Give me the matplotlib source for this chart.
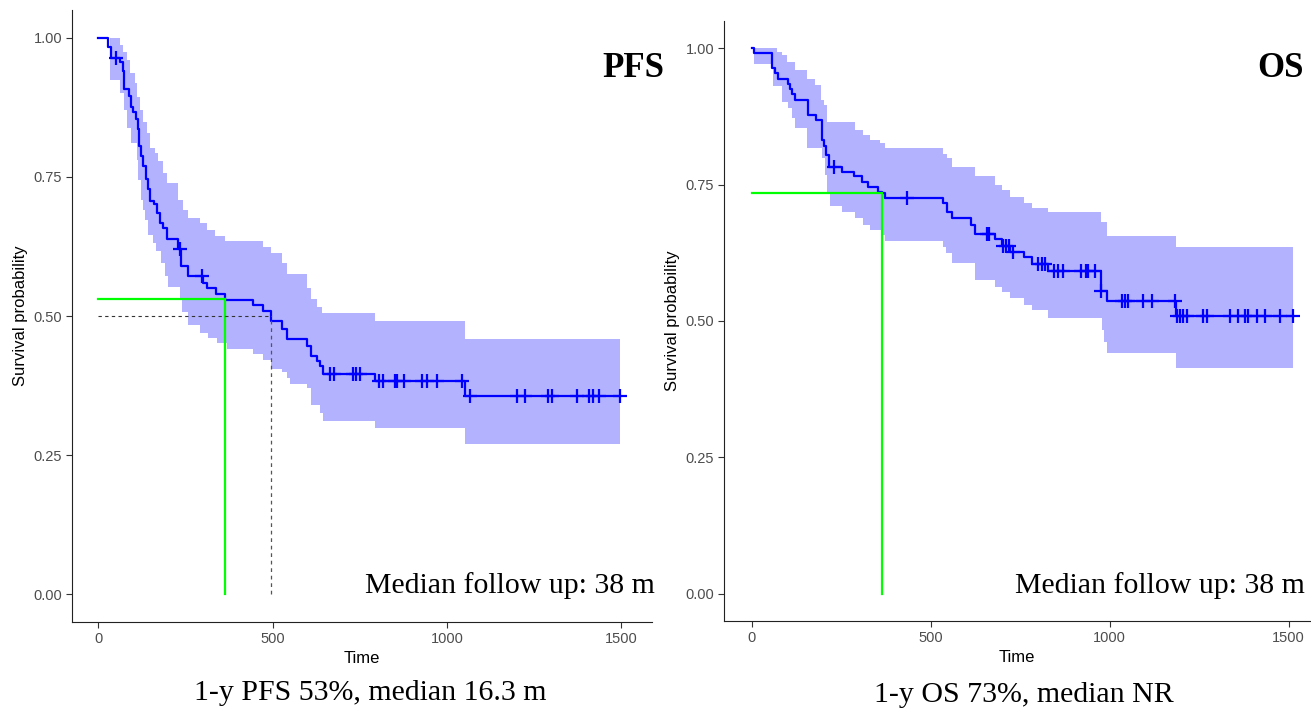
import numpy as np
import matplotlib
matplotlib.use('Agg')
from matplotlib import pyplot as plt

# PFS Kaplan-Meier steps (days, survival)
pfs_time = [0, 27, 36, 63, 70, 75, 87, 95, 101, 108, 114, 118, 123, 130, 138, 144, 149, 159, 170, 178,
            187, 197, 230, 238, 257, 302, 312, 337, 364, 445, 472, 495, 527, 541, 600, 611, 627, 637, 645, 794, 1052]
pfs_surv = [1.0, 0.983, 0.963, 0.957, 0.941, 0.908, 0.896, 0.875, 0.866, 0.854, 0.836, 0.806, 0.788, 0.770, 0.746, 0.728, 0.707, 0.701, 0.686, 0.668,
            0.659, 0.638, 0.620, 0.590, 0.571, 0.560, 0.551, 0.539, 0.528, 0.519, 0.509, 0.491, 0.477, 0.459, 0.446, 0.428, 0.419, 0.410, 0.396, 0.383, 0.357]
pfs_end = 1497
pfs_censor = [52, 235, 297, 665, 675, 732, 740, 751, 804, 818, 852, 856, 876, 928, 942, 971, 1043, 1065,
              1200, 1224, 1291, 1301, 1373, 1406, 1420, 1435, 1497]
pfs_up_t = [0, 62, 72, 82, 91, 105, 110, 120, 129, 139, 148, 163, 172, 187, 196, 230, 244, 258, 292, 311,
            335, 364, 472, 495, 527, 541, 600, 611, 627, 641, 794, 1052]
pfs_up = [1.0, 0.987, 0.975, 0.960, 0.936, 0.918, 0.894, 0.871, 0.849, 0.829, 0.802, 0.793, 0.778, 0.757, 0.739, 0.709, 0.691, 0.676, 0.667, 0.655,
          0.644, 0.634, 0.624, 0.613, 0.595, 0.575, 0.550, 0.530, 0.517, 0.505, 0.491, 0.458]
pfs_lo_t = [0, 34, 62, 74, 82, 94, 110, 115, 124, 130, 135, 144, 158, 166, 179, 191, 201, 235, 240, 258,
            292, 316, 340, 368, 445, 472, 495, 527, 541, 550, 600, 611, 637, 645, 794, 1052]
pfs_lo = [1.0, 0.924, 0.900, 0.871, 0.838, 0.811, 0.781, 0.745, 0.709, 0.690, 0.673, 0.645, 0.631, 0.616, 0.595, 0.571, 0.553, 0.529, 0.508, 0.484,
          0.469, 0.460, 0.451, 0.440, 0.432, 0.421, 0.405, 0.400, 0.388, 0.378, 0.370, 0.340, 0.325, 0.311, 0.298, 0.270]
pfs_1y = 0.53
pfs_median = 495

# OS Kaplan-Meier steps
os_time = [0, 7, 58, 66, 75, 101, 106, 112, 122, 157, 180, 198, 203, 208, 215, 254, 287, 308, 326, 354,
           364, 373, 536, 545, 559, 612, 624, 680, 699, 722, 761, 784, 829, 976, 992, 1186]
os_surv = [1.0, 0.992, 0.963, 0.954, 0.944, 0.935, 0.925, 0.917, 0.906, 0.878, 0.868, 0.832, 0.820, 0.804, 0.783, 0.774, 0.765, 0.755, 0.746, 0.737,
           0.734, 0.725, 0.716, 0.700, 0.688, 0.676, 0.659, 0.650, 0.637, 0.627, 0.617, 0.604, 0.592, 0.555, 0.537, 0.509]
os_end = 1513
os_censor = [231, 435, 657, 664, 703, 712, 720, 730, 800, 810, 820, 845, 855, 870, 920, 935, 940, 960, 977,
             1034, 1043, 1052, 1093, 1118, 1183, 1188, 1197, 1206, 1216, 1262, 1271, 1337, 1360, 1378, 1388,
             1411, 1434, 1476, 1513]
os_up_t = [0, 70, 84, 98, 121, 154, 177, 194, 203, 210, 289, 312, 331, 359, 373, 536, 545, 559, 624, 680,
           699, 722, 761, 784, 829, 976, 992, 1186]
os_up = [1.0, 0.994, 0.988, 0.975, 0.961, 0.943, 0.933, 0.905, 0.896, 0.865, 0.850, 0.841, 0.832, 0.826, 0.817, 0.807, 0.798, 0.783, 0.765, 0.750,
         0.740, 0.728, 0.717, 0.708, 0.699, 0.682, 0.655, 0.636]
os_lo_t = [0, 7, 61, 84, 103, 112, 121, 154, 198, 205, 210, 219, 252, 289, 312, 331, 363, 373, 536, 543,
           560, 624, 680, 699, 722, 761, 784, 829, 978, 984, 992, 1186]
os_lo = [1.0, 0.972, 0.930, 0.902, 0.890, 0.872, 0.853, 0.817, 0.798, 0.768, 0.737, 0.710, 0.700, 0.688, 0.676, 0.667, 0.658, 0.647, 0.636, 0.624,
         0.606, 0.575, 0.563, 0.554, 0.542, 0.529, 0.520, 0.505, 0.483, 0.462, 0.441, 0.413]
os_1y = 0.735

W, H = 1311, 708


def step_at(ts, vs, x):
    idx = np.searchsorted(ts, x, side='right') - 1
    return np.asarray(vs)[idx]


def km_panel(ax, t, s, end, cens, up_t, up, lo_t, lo):
    grid = np.unique(np.concatenate([up_t, lo_t, [end]]))
    ax.fill_between(grid, step_at(lo_t, lo, grid), step_at(up_t, up, grid),
                    step='post', color='blue', alpha=0.3, lw=0)
    ax.step(list(t) + [end], list(s) + [s[-1]], where='post', color='blue', lw=1.6)
    ax.plot(cens, step_at(t, s, cens), '+', color='blue', ms=10, mew=1.6)


def style(ax, xlim):
    ax.set_xlim(*xlim)
    ax.set_ylim(-0.05, 1.05)
    ax.set_xticks([0, 500, 1000, 1500])
    ax.set_yticks([0, 0.25, 0.5, 0.75, 1.0])
    ax.set_yticklabels(['0.00', '0.25', '0.50', '0.75', '1.00'])
    for sp in ['top', 'right']:
        ax.spines[sp].set_visible(False)
    for sp in ['left', 'bottom']:
        ax.spines[sp].set_linewidth(0.8)
        ax.spines[sp].set_color('#222222')
    ax.tick_params(length=4, width=0.8, color='#333333', labelcolor='#4d4d4d', labelsize=10.5, pad=3)
    ax.set_xlabel('Time', fontsize=12, labelpad=4)
    ax.set_ylabel('Survival probability', fontsize=12, labelpad=4)


plt.rcParams['font.family'] = ['Liberation Sans', 'DejaVu Sans']
fig = plt.figure(figsize=(W / 100, H / 100), dpi=100)

ax1 = fig.add_axes([72 / W, 1 - 622 / H, (652 - 72) / W, (622 - 10) / H])
km_panel(ax1, pfs_time, pfs_surv, pfs_end, pfs_censor, pfs_up_t, pfs_up, pfs_lo_t, pfs_lo)
ax1.plot([0, 365], [pfs_1y, pfs_1y], color='#00ff00', lw=1.6)
ax1.plot([365, 365], [0, pfs_1y], color='#00ff00', lw=1.6)
ax1.plot([0, pfs_median], [0.5, 0.5], color='#333333', lw=0.8, ls=(0, (3, 3)))
ax1.plot([pfs_median, pfs_median], [0, 0.5], color='#555555', lw=0.9, ls=(0, (3, 3)))
style(ax1, (-75, 1588))

ax2 = fig.add_axes([724 / W, 1 - 621 / H, (1310 - 724) / W, (621 - 21) / H])
km_panel(ax2, os_time, os_surv, os_end, os_censor, os_up_t, os_up, os_lo_t, os_lo)
ax2.plot([0, 365], [os_1y, os_1y], color='#00ff00', lw=1.6)
ax2.plot([365, 365], [0, os_1y], color='#00ff00', lw=1.6)
style(ax2, (-77, 1560))

serif = ['Liberation Serif', 'DejaVu Serif']
fig.text(664 / W, 1 - 77 / H, 'PFS', family=serif, weight='bold', fontsize=25, ha='right', va='baseline')
fig.text(1304 / W, 1 - 77 / H, 'OS', family=serif, weight='bold', fontsize=25, ha='right', va='baseline')
fig.text(655 / W, 1 - 593 / H, 'Median follow up: 38 m', family=serif, fontsize=21.5, ha='right', va='baseline')
fig.text(1305 / W, 1 - 593 / H, 'Median follow up: 38 m', family=serif, fontsize=21.5, ha='right', va='baseline')
fig.text(370 / W, 1 - 700 / H, '1-y PFS 53%, median 16.3 m', family=serif, fontsize=21.5, ha='center', va='baseline')
fig.text(1024 / W, 1 - 702 / H, '1-y OS 73%, median NR', family=serif, fontsize=21.5, ha='center', va='baseline')

fig.savefig('out.png', dpi=100)
